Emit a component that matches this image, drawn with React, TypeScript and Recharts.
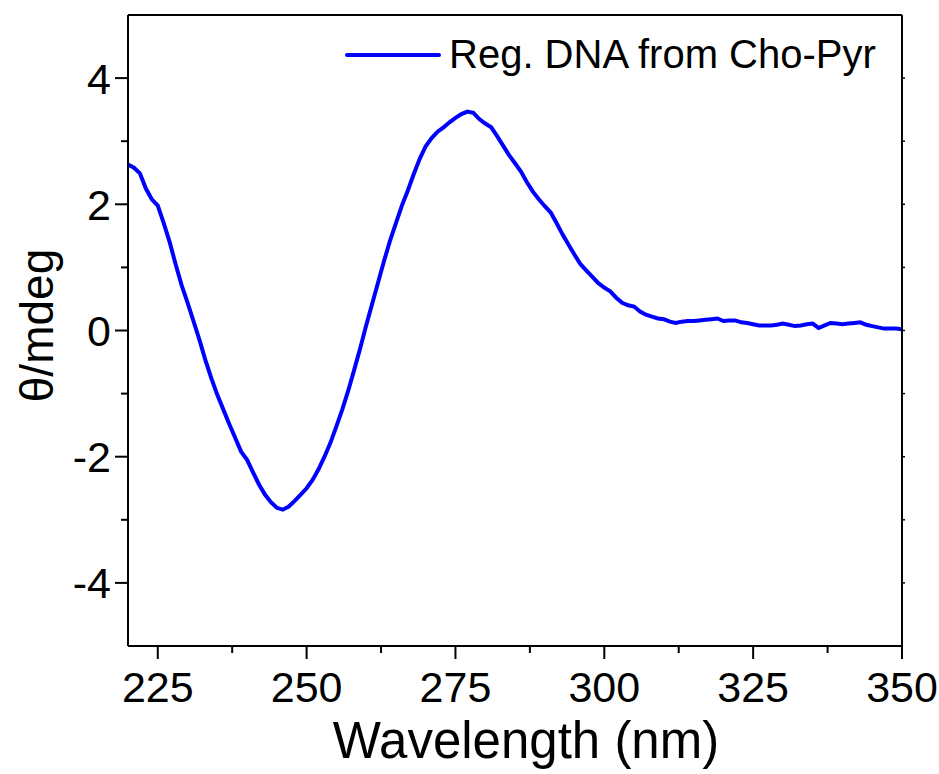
import { LineChart, Line, XAxis, YAxis, Legend } from 'recharts'

const wavelengths = [
  220, 221, 222, 223, 224, 225, 226, 227, 228, 229, 230, 231, 232, 233, 234, 235, 236, 237, 238, 239,
  240, 241, 242, 243, 244, 245, 246, 247, 248, 249, 250, 251, 252, 253, 254, 255, 256, 257, 258, 259,
  260, 261, 262, 263, 264, 265, 266, 267, 268, 269, 270, 271, 272, 273, 274, 275, 276, 277, 278, 279,
  280, 281, 282, 283, 284, 285, 286, 287, 288, 289, 290, 291, 292, 293, 294, 295, 296, 297, 298, 299,
  300, 301, 302, 303, 304, 305, 306, 307, 308, 309, 310, 311, 312, 313, 314, 315, 316, 317, 318, 319,
  320, 321, 322, 323, 324, 325, 326, 327, 328, 329, 330, 331, 332, 333, 334, 335, 336, 337, 338, 339,
  340, 341, 342, 343, 344, 345, 346, 347, 348, 349, 350,
]

const theta = [
  2.63, 2.58, 2.49, 2.25, 2.08, 1.98, 1.70, 1.40, 1.05, 0.72, 0.44, 0.15, -0.15, -0.47, -0.76, -1.02, -1.25, -1.48, -1.70, -1.92,
  -2.05, -2.25, -2.44, -2.60, -2.72, -2.81, -2.84, -2.79, -2.70, -2.60, -2.50, -2.37, -2.20, -2.00, -1.78, -1.52, -1.25, -0.95, -0.62, -0.28,
  0.08, 0.42, 0.76, 1.10, 1.42, 1.70, 1.98, 2.22, 2.48, 2.72, 2.92, 3.05, 3.15, 3.22, 3.30, 3.37, 3.43, 3.47, 3.45, 3.35,
  3.28, 3.22, 3.08, 2.93, 2.78, 2.65, 2.52, 2.35, 2.20, 2.08, 1.97, 1.87, 1.70, 1.52, 1.36, 1.20, 1.05, 0.95, 0.85, 0.75,
  0.68, 0.62, 0.52, 0.44, 0.40, 0.38, 0.30, 0.25, 0.22, 0.19, 0.18, 0.14, 0.12, 0.14, 0.15, 0.15, 0.16, 0.17, 0.18, 0.19,
  0.15, 0.16, 0.16, 0.13, 0.12, 0.10, 0.08, 0.08, 0.08, 0.09, 0.11, 0.09, 0.07, 0.08, 0.10, 0.11, 0.04, 0.08, 0.12, 0.11,
  0.10, 0.11, 0.12, 0.13, 0.09, 0.07, 0.05, 0.03, 0.03, 0.03, 0.02,
]

const xTicks = [225, 237.5, 250, 262.5, 275, 287.5, 300, 312.5, 325, 337.5, 350]
const topTicks = [233, 246, 259, 272, 285, 298, 311, 324, 337]
const yTicks = [-4, -3, -2, -1, 0, 1, 2, 3, 4]
const seriesName = 'Reg. DNA from Cho-Pyr'

const data = wavelengths.map((wl, i) => ({ wl, theta: theta[i] }))

const FONT = '"Liberation Sans", Arial, sans-serif'

const BottomTick = (props: any) => {
  const { x, y, payload } = props
  const major = payload.value % 25 === 0
  return (
    <g>
      <line x1={x} x2={x} y1={y} y2={y + (major ? 13 : 7)} stroke="#000" strokeWidth={2} />
      {major && (
        <text x={x} y={y + 56} textAnchor="middle" fontSize={43} fontFamily={FONT} fill="#000">
          {payload.value}
        </text>
      )}
    </g>
  )
}

const LeftTick = (props: any) => {
  const { x, y, payload } = props
  const major = payload.value % 2 === 0
  return (
    <g>
      <line x1={x} x2={x - (major ? 13 : 7)} y1={y} y2={y} stroke="#000" strokeWidth={2} />
      {major && (
        <text x={x - 17} y={y} dy="0.36em" textAnchor="end" fontSize={43} fontFamily={FONT} fill="#000">
          {payload.value}
        </text>
      )}
    </g>
  )
}

const TopTick = (props: any) => {
  const { x, y } = props
  return <line x1={x} x2={x} y1={y} y2={y + 4} stroke="#000" strokeWidth={1.5} />
}

const RightTick = (props: any) => {
  const { x, y } = props
  return <line x1={x} x2={x + 3} y1={y} y2={y} stroke="#000" strokeWidth={1.5} />
}

const LegendContent = () => (
  <div style={{ display: 'flex', alignItems: 'center', fontFamily: FONT, fontSize: 40, color: '#000', whiteSpace: 'nowrap' }}>
    <svg width={96} height={10} style={{ marginRight: 8 }}>
      <line x1={2} x2={94} y1={5} y2={5} stroke="#0000ff" strokeWidth={4} strokeLinecap="round" />
    </svg>
    <span>{seriesName}</span>
  </div>
)

export default function App() {
  return (
    <div style={{ position: 'absolute', left: 0, top: 0, background: '#fff' }}>
      <LineChart width={939} height={774} data={data} margin={{ top: 0, right: 0, bottom: 0, left: 0 }}>
        <XAxis
          dataKey="wl"
          type="number"
          domain={[220, 350]}
          ticks={xTicks}
          interval={0}
          allowDataOverflow
          height={128}
          tickSize={0}
          tickMargin={0}
          tick={<BottomTick />}
          axisLine={{ stroke: '#000', strokeWidth: 2 }}
          label={{ value: 'Wavelength (nm)', position: 'insideBottom', offset: 16, dx: 11, style: { fontSize: 51, fontFamily: FONT, fill: '#000' } }}
        />
        <XAxis
          xAxisId="top"
          orientation="top"
          type="number"
          domain={[220, 350]}
          ticks={topTicks}
          interval={0}
          allowDataOverflow
          height={15}
          tickSize={0}
          tickMargin={0}
          tick={<TopTick />}
          axisLine={{ stroke: '#000', strokeWidth: 2 }}
        />
        <YAxis
          type="number"
          domain={[-5, 5]}
          ticks={yTicks}
          interval={0}
          allowDataOverflow
          width={128}
          tickSize={0}
          tickMargin={0}
          tick={<LeftTick />}
          axisLine={{ stroke: '#000', strokeWidth: 2 }}
          label={{ value: 'θ/mdeg', angle: -90, position: 'insideLeft', offset: 37, dy: -5, style: { fontSize: 46, fontFamily: FONT, fill: '#000', textAnchor: 'middle' } }}
        />
        <YAxis
          yAxisId="right"
          orientation="right"
          type="number"
          domain={[-5, 5]}
          ticks={yTicks}
          interval={0}
          allowDataOverflow
          width={37}
          tickSize={0}
          tickMargin={0}
          tick={<RightTick />}
          axisLine={{ stroke: '#000', strokeWidth: 2 }}
        />
        <Legend
          layout="vertical"
          verticalAlign="middle"
          align="center"
          content={<LegendContent />}
          wrapperStyle={{ position: 'absolute', left: 345, top: 32, width: 'auto' }}
        />
        <Line
          type="linear"
          dataKey="theta"
          name={seriesName}
          stroke="#0000ff"
          strokeWidth={4}
          dot={false}
          isAnimationActive={false}
        />
      </LineChart>
    </div>
  )
}
